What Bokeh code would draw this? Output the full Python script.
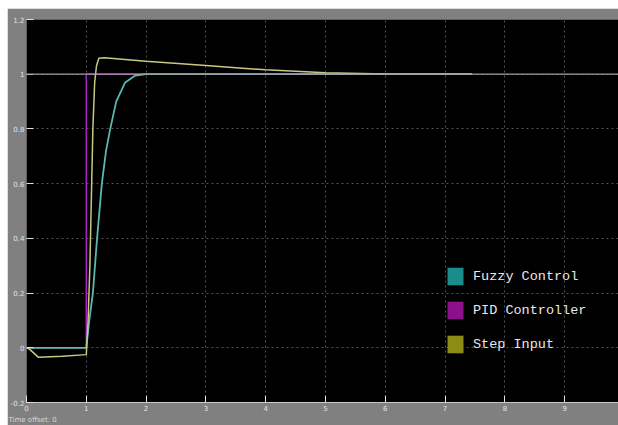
from bokeh.plotting import figure
from bokeh.models import Range1d, Span, Legend, LegendItem, FixedTicker, Title
from bokeh.embed import file_html
from bokeh.resources import INLINE

# ---- data ----
fuzzy_t = [0.0, 1.0, 1.05, 1.11, 1.18, 1.26, 1.33, 1.40, 1.50, 1.65, 1.82, 2.0, 7.45]
fuzzy_y = [0.0, 0.0, 0.10, 0.20, 0.40, 0.60, 0.72, 0.80, 0.90, 0.97, 0.995, 1.0, 1.0]

pid_t = [0.0, 1.0, 1.0, 7.45]
pid_y = [0.0, 0.0, 1.0, 1.0]

step_t = [0.0, 0.05, 0.2, 0.6, 1.0, 1.03, 1.06, 1.09, 1.11, 1.14, 1.17, 1.21, 1.3, 2.0, 3.0, 4.0, 5.0, 6.0, 7.45]
step_y = [0.0, -0.005, -0.035, -0.031, -0.025, 0.1, 0.3, 0.6, 0.8, 0.97, 1.03, 1.058, 1.06, 1.047, 1.032, 1.016, 1.005, 1.001, 1.0]

x_ticks = [0, 1, 2, 3, 4, 5, 6, 7, 8, 9]
y_ticks = [-0.2, 0, 0.2, 0.4, 0.6, 0.8, 1.0, 1.2]
y_tick_labels = ["-0.2", "0", "0.2", "0.4", "0.6", "0.8", "1", "1.2"]
series_names = ["Fuzzy Control", "PID Controller", "Step Input"]
swatch_colors = ["#1a8c8c", "#8c108c", "#8c8c14"]

p = figure(width=611, height=417, output_backend="svg", toolbar_location=None,
           x_range=Range1d(0, 9.9), y_range=Range1d(-0.2, 1.2),
           min_border_left=19, min_border_right=0, min_border_top=11, min_border_bottom=23)
p.margin = (8, 0, 0, 7)

p.background_fill_color = "#000000"
p.border_fill_color = "#808080"
p.outline_line_color = None

for ax in (p.xaxis, p.yaxis):
    ax.major_tick_in = 7
    ax.major_tick_out = 0
    ax.major_tick_line_color = "#e0e0e0"
    ax.minor_tick_line_color = None
    ax.major_label_text_font_size = "7px"
    ax.major_label_text_color = "#e0e0e0"
    ax.major_label_text_font = "DejaVu Sans"
    ax.major_label_standoff = 2
p.xaxis.axis_line_color = "#c8c8c8"
p.yaxis.axis_line_color = None
p.xaxis.ticker = FixedTicker(ticks=x_ticks)
p.yaxis.ticker = FixedTicker(ticks=y_ticks)
p.yaxis.major_label_overrides = {t: l for t, l in zip(y_ticks, y_tick_labels)}

p.grid.grid_line_color = "#555555"
p.grid.grid_line_dash = "2 3"
p.grid.grid_line_width = 1
p.xgrid.ticker = FixedTicker(ticks=x_ticks)
p.ygrid.ticker = FixedTicker(ticks=y_ticks)

p.add_layout(Span(location=1.0, dimension="width", line_color="#a49aa6", line_width=1.2))

r_pid = p.line(pid_t, pid_y, line_color="#b020c8", line_width=1.5)
r_fuzzy = p.line(fuzzy_t, fuzzy_y, line_color="#5ab8b0", line_width=1.8)
r_step = p.line(step_t, step_y, line_color="#c8c880", line_width=1.5)

# legend swatches: one NaN point each (not drawn), only used for the colour boxes
nan = float("nan")
swatches = [p.rect([nan], [nan], width=1, height=1, fill_color=c, line_color=None)
            for c in swatch_colors]

legend = Legend(items=[LegendItem(label=n, renderers=[r]) for n, r in zip(series_names, swatches)],
                location=(419, 47), orientation="vertical",
                glyph_width=20, glyph_height=22, label_height=22, spacing=12,
                padding=0, margin=0, label_standoff=8,
                border_line_color=None, background_fill_alpha=0,
                label_text_font="Liberation Mono", label_text_font_size="13.5px",
                label_text_color="#e8e8e8", label_text_baseline="middle")
p.add_layout(legend)

p.add_layout(Title(text="Time offset: 0", align="left", offset=-18, standoff=0,
                   text_font_size="7px", text_color="#d8d8d8", text_font="DejaVu Sans",
                   text_font_style="normal"), "below")

open("out.html", "w").write(file_html(p, INLINE))
